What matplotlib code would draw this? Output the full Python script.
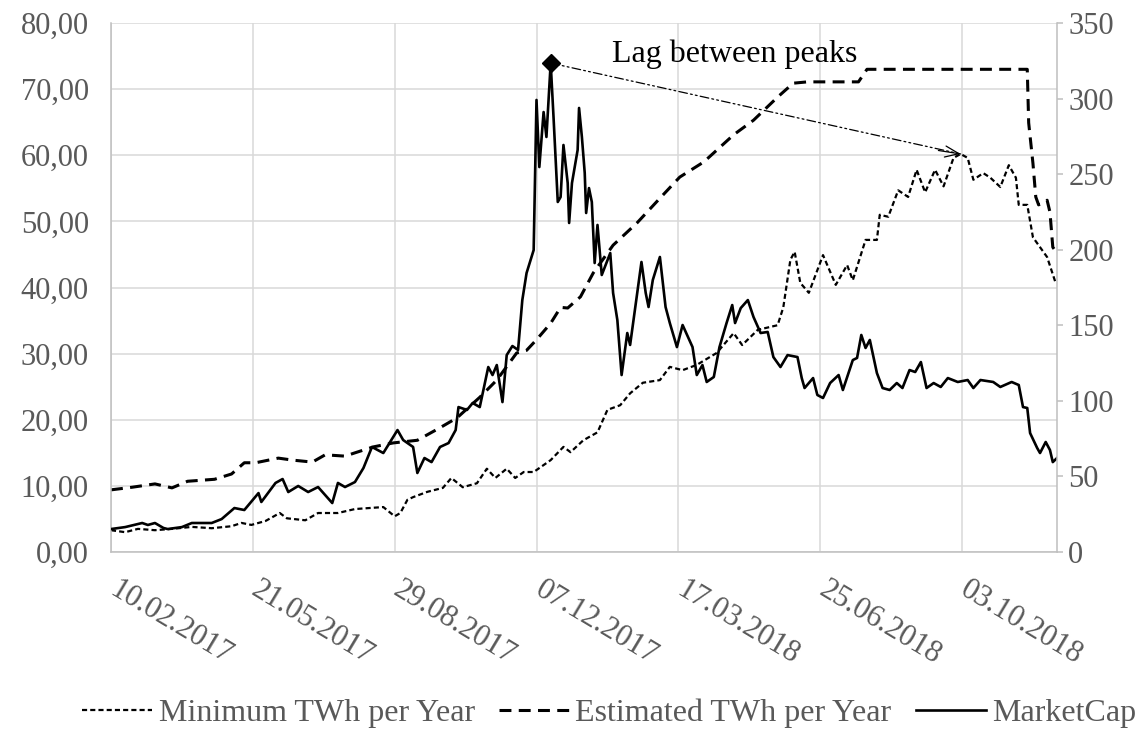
import numpy as np
import matplotlib
matplotlib.use('Agg')
import matplotlib.pyplot as plt
import matplotlib.dates as mdates
from matplotlib.ticker import FuncFormatter, MultipleLocator
from matplotlib.transforms import ScaledTranslation

plt.rcParams['font.family'] = ['Liberation Serif', 'DejaVu Serif']

start = np.datetime64('2017-02-10')
span_days = 667

# Estimated TWh per Year (left axis)
est_days = [0, 15, 31, 43, 54, 73, 85, 94, 102, 118, 128, 142, 151, 165, 172, 185, 199, 216, 232, 244,
            260, 272, 286, 293, 300, 310, 317, 322, 331, 340, 354, 371, 387, 401, 418, 439, 453, 470, 481, 491,
            527, 533, 646, 647, 650, 652, 654, 660, 662, 664, 666]
est_vals = [9.4, 9.8, 10.3, 9.7, 10.7, 11.0, 11.8, 13.5, 13.5, 14.2, 13.9, 13.6, 14.7, 14.5, 15.0, 15.9, 16.5, 16.9, 18.8, 20.3,
            23.4, 26.0, 30.1, 30.5, 32.1, 34.6, 37.0, 36.9, 38.6, 42.2, 46.4, 49.8, 53.5, 56.7, 59.0, 63.1, 65.3, 68.8, 70.9, 71.1,
            71.1, 73.0, 73.0, 64.9, 58.8, 53.7, 52.5, 53.2, 51.4, 46.1, 45.5]

# Minimum TWh per Year (left axis)
min_days = [0, 10, 19, 31, 43, 57, 71, 85, 92, 99, 109, 119, 124, 137, 146, 160, 172, 192, 200, 204,
            209, 213, 223, 234, 240, 248, 258, 265, 271, 279, 285, 291, 298, 310, 319, 324, 333, 343, 350, 359,
            366, 375, 387, 394, 403, 413, 427, 439, 445, 456, 470, 474, 479, 482, 486, 492, 502, 511, 519, 523,
            532, 540, 542, 548, 555, 562, 568, 574, 581, 587, 594, 599, 604, 608, 615, 620, 627, 633, 638, 640,
            646, 650, 660, 666]
min_vals = [3.3, 3.0, 3.5, 3.3, 3.5, 3.8, 3.6, 3.9, 4.4, 4.1, 4.7, 5.9, 5.1, 4.8, 5.9, 5.9, 6.5, 6.8, 5.4, 5.9,
            7.9, 8.3, 9.1, 9.7, 11.2, 9.8, 10.4, 12.6, 11.2, 12.6, 11.2, 12.1, 12.1, 13.9, 15.9, 15.1, 16.9, 18.1, 21.5, 22.2,
            24.0, 25.6, 26.0, 28.0, 27.5, 28.3, 30.1, 33.1, 31.3, 33.6, 34.3, 37.0, 44.2, 45.4, 40.7, 39.2, 44.9, 40.4, 43.4, 41.1,
            47.2, 47.2, 51.0, 50.7, 54.7, 53.7, 57.8, 54.4, 57.8, 55.3, 59.6, 60.2, 59.6, 56.3, 57.3, 56.6, 55.2, 58.5, 56.6, 52.5,
            52.5, 47.6, 44.6, 40.7]

# MarketCap (right axis, bn)
mc_days = [0, 10, 22, 26, 31, 37, 40, 50, 57, 71, 78, 87, 94, 104, 106, 116, 121, 125, 132, 139,
           146, 156, 160, 165, 172, 178, 184, 192, 202, 206, 213, 216, 221, 226, 232, 238, 243, 245, 251, 255,
           260, 266, 269, 272, 276, 279, 283, 287, 290, 293, 298, 300, 302, 305, 307, 310, 312, 315, 317, 319,
           322, 323, 325, 329, 330, 332, 334, 335, 337, 339, 341, 343, 346, 352, 354, 357, 360, 364, 366, 371,
           374, 377, 379, 382, 387, 391, 394, 399, 403, 410, 413, 417, 420, 425, 429, 434, 438, 440, 444, 449,
           453, 458, 463, 467, 472, 477, 484, 487, 489, 495, 498, 502, 507, 513, 516, 523, 526, 529, 532, 535,
           540, 544, 549, 554, 558, 563, 567, 571, 575, 580, 585, 590, 597, 604, 608, 613, 622, 627, 635, 640,
           643, 646, 648, 653, 655, 659, 662, 664, 667]
mc_vals = [15.2, 16.5, 19.2, 17.9, 19.2, 15.9, 15.2, 16.5, 19.2, 19.2, 21.8, 29.1, 27.8, 39.0, 33.1, 45.7, 48.3, 39.7, 43.7, 39.7,
           43.0, 32.4, 45.7, 43.0, 46.3, 55.6, 69.5, 65.5, 80.7, 74.1, 69.5, 52.3, 62.2, 59.5, 69.5, 72.1, 80.7, 95.9, 94.0, 98.6,
           95.9, 122.4, 117.1, 123.7, 99.2, 130.3, 136.3, 133.7, 166.7, 184.6, 199.8, 299.1, 254.7, 291.1, 274.6, 323.5, 287.8, 231.6, 234.9, 269.3,
           244.1, 217.7, 244.1, 266.0, 293.8, 274.6, 250.8, 224.3, 240.8, 231.6, 191.2, 216.4, 183.3, 197.8, 171.4, 153.5, 117.1, 144.9, 137.0, 171.4,
           191.9, 171.4, 162.1, 180.0, 195.2, 162.1, 151.5, 135.6, 150.2, 135.6, 117.1, 123.7, 112.5, 115.8, 135.6, 151.5, 163.4, 151.5, 161.4, 166.7,
           155.5, 144.9, 145.6, 129.0, 122.4, 130.3, 129.0, 115.1, 108.5, 115.1, 103.9, 101.9, 111.8, 117.1, 107.2, 127.0, 128.4, 143.6, 135.0, 140.3,
           118.4, 108.5, 107.2, 111.8, 108.5, 120.4, 119.1, 125.7, 108.5, 111.8, 109.2, 115.1, 112.5, 113.8, 108.5, 113.8, 112.5, 109.2, 112.5, 110.5,
           95.9, 95.3, 78.7, 68.8, 65.5, 72.8, 67.5, 59.5, 62.2]

tick_step = 100
gray = '#595959'
grid_c = '#D9D9D9'
spine_c = '#BFBFBF'


def to_dates(days):
    return start + np.array(days).astype('timedelta64[D]')


fig, ax = plt.subplots(figsize=(11.43, 7.33), dpi=100)
fig.subplots_adjust(left=0.0971, right=0.9248, top=0.9686, bottom=0.2469)
ax2 = ax.twinx()

l_min, = ax.plot(to_dates(min_days), min_vals, color='black', lw=1.6, dashes=(2.3, 1.4),
                 label='Minimum TWh per Year')
l_est, = ax.plot(to_dates(est_days), est_vals, color='black', lw=2.2, dashes=(3.9, 2.4),
                 label='Estimated TWh per Year')
l_mc, = ax2.plot(to_dates(mc_days), mc_vals, color='black', lw=1.9, label='MarketCap')

ax.set_ylim(0, 80)
ax2.set_ylim(0, 350)
ax.set_xlim(start, start + np.timedelta64(span_days, 'D'))
ax.yaxis.set_major_locator(MultipleLocator(10))
ax2.yaxis.set_major_locator(MultipleLocator(50))
ax.yaxis.set_major_formatter(FuncFormatter(lambda v, p: f'{v:.2f}'.replace('.', ',')))
ax2.yaxis.set_major_formatter(FuncFormatter(lambda v, p: f'{v:.0f}'))

xt = to_dates(list(range(0, span_days, tick_step)))
ax.set_xticks(xt)
ax.xaxis.set_major_formatter(mdates.DateFormatter('%d.%m.%Y'))

ax.grid(True, color=grid_c, lw=1.1)
ax.set_axisbelow(True)
for s in ['top', 'right']:
    ax.spines[s].set_visible(False)
for s in ['top', 'left', 'bottom']:
    ax2.spines[s].set_visible(False)
ax.spines['left'].set_color(spine_c)
ax.spines['bottom'].set_color(spine_c)
ax2.spines['right'].set_color(spine_c)
ax.spines['left'].set_linewidth(1.1)
ax.spines['bottom'].set_linewidth(1.1)
ax2.spines['right'].set_linewidth(1.1)

ax.tick_params(axis='y', length=0, pad=16, labelsize=22, labelcolor=gray)
ax.tick_params(axis='x', length=0, pad=17, labelsize=22, labelcolor=gray)
ax2.tick_params(axis='y', length=4, width=1.1, color=spine_c, pad=4, labelsize=22, labelcolor=gray)
shift = ScaledTranslation(6 / 72, 0, fig.dpi_scale_trans)
for lab in ax.get_xticklabels():
    lab.set_rotation(-31)
    lab.set_ha('left')
    lab.set_va('top')
    lab.set_rotation_mode('anchor')
    lab.set_transform(lab.get_transform() + shift)

# peak marker and lag arrow
i_mc = int(np.argmax(mc_vals))
i_min = int(np.argmax(min_vals))
peak_date = to_dates([mc_days[i_mc]])[0]
tip_date = to_dates([min_days[i_min]])[0]
ax2.plot([peak_date], [mc_vals[i_mc]], marker='D', ms=9, color='black', zorder=5)

ax.annotate('', xy=(tip_date, min_vals[i_min]), xycoords='data',
            xytext=(peak_date, mc_vals[i_mc]), textcoords=ax2.transData,
            arrowprops=dict(arrowstyle='-', color='black', lw=0.9,
                            linestyle=(0, (7, 2.5, 1.5, 2.5, 1.5, 2.5)),
                            shrinkA=0, shrinkB=0))
ax.annotate('', xy=(tip_date, min_vals[i_min]), xycoords='data',
            xytext=(-16, 2.5), textcoords='offset points',
            arrowprops=dict(arrowstyle='->,head_length=1.0,head_width=0.4', color='black', lw=0.9,
                            shrinkA=0, shrinkB=0))
ax.text(to_dates([353])[0], 74.1, 'Lag between peaks', fontsize=23, color='black',
        ha='left', va='baseline')

fig.legend(handles=[l_min, l_est, l_mc], loc='center', bbox_to_anchor=(0.533, 0.027),
           ncol=3, frameon=False, fontsize=23, labelcolor=gray, handlelength=2.2,
           handletextpad=0.2, columnspacing=0.75)

plt.savefig('out.png', dpi=100)
